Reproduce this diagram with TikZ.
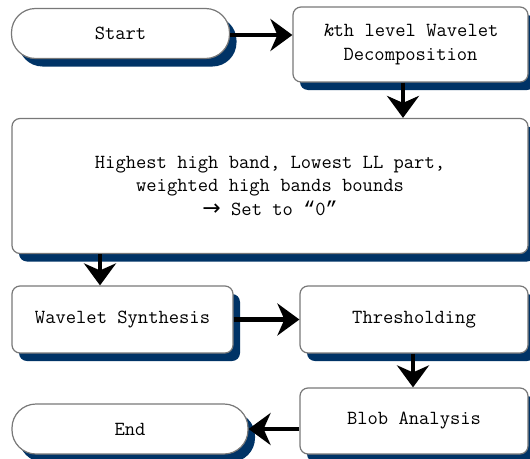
\documentclass[tikz,border=0pt]{standalone}
\usepackage{fontspec}
\newfontfamily\arrfont{DejaVu Sans}
\newfontfamily\quotefont{Liberation Mono}
\usetikzlibrary{arrows.meta,shadows}
\definecolor{navy}{RGB}{0,51,102}
\definecolor{edge}{RGB}{120,120,120}
\tikzset{
  box/.style={draw=edge, line width=1.2pt, fill=white, rounded corners=8pt,
    inner sep=0pt, align=center, font=\ttfamily\fontsize{20}{23.5}\selectfont,
    drop shadow={shadow xshift=7pt, shadow yshift=-8pt, fill=navy, opacity=1}},
  term/.style={box, rounded corners=24pt},
  arr/.style={line width=4.5pt, -{Stealth[length=22pt,width=32pt,inset=7pt]}}
}
\begin{document}
\begin{tikzpicture}[x=1pt,y=-1pt]
\clip (0,0) rectangle (530,458);
\fill[white] (0,0) rectangle (530,458);
\node[term, minimum width=218pt, minimum height=50pt] (start) at (120.5,33.5) {Start};
\node[box, minimum width=235pt, minimum height=75pt] (decomp) at (410.5,44.5) {\textit{k}th level Wavelet\\Decomposition};
\node[box, minimum width=516pt, minimum height=135pt] (big) at (270,186) {Highest high band, Lowest LL part,\\weighted high bands bounds\\{\arrfont\fontsize{22}{23.5}\selectfont →} Set to {\quotefont“}0{\quotefont”}};
\node[box, minimum width=221pt, minimum height=67pt] (ws) at (122.5,319.5) {Wavelet Synthesis};
\node[box, minimum width=228pt, minimum height=67pt] (thr) at (414,319.5) {Thresholding};
\node[box, minimum width=228pt, minimum height=66pt] (blob) at (414,421) {Blob Analysis};
\node[term, minimum width=236pt, minimum height=50pt] (end) at (130,429) {End};
\coordinate (cA) at (403,0);
\coordinate (cB) at (100,0);
\coordinate (cC) at (413,0);
\coordinate (cD) at (0,35);
\draw[arr] (start.east |- cD) -- (decomp.west |- cD);
\draw[arr] (decomp.south -| cA) -- (big.north -| cA);
\draw[arr] (big.south -| cB) -- (ws.north -| cB);
\draw[arr] (ws.east) -- (thr.west |- ws.east);
\draw[arr] (thr.south -| cC) -- (blob.north -| cC);
\draw[arr] (blob.west |- end.east) -- (end.east);
\end{tikzpicture}
\end{document}
